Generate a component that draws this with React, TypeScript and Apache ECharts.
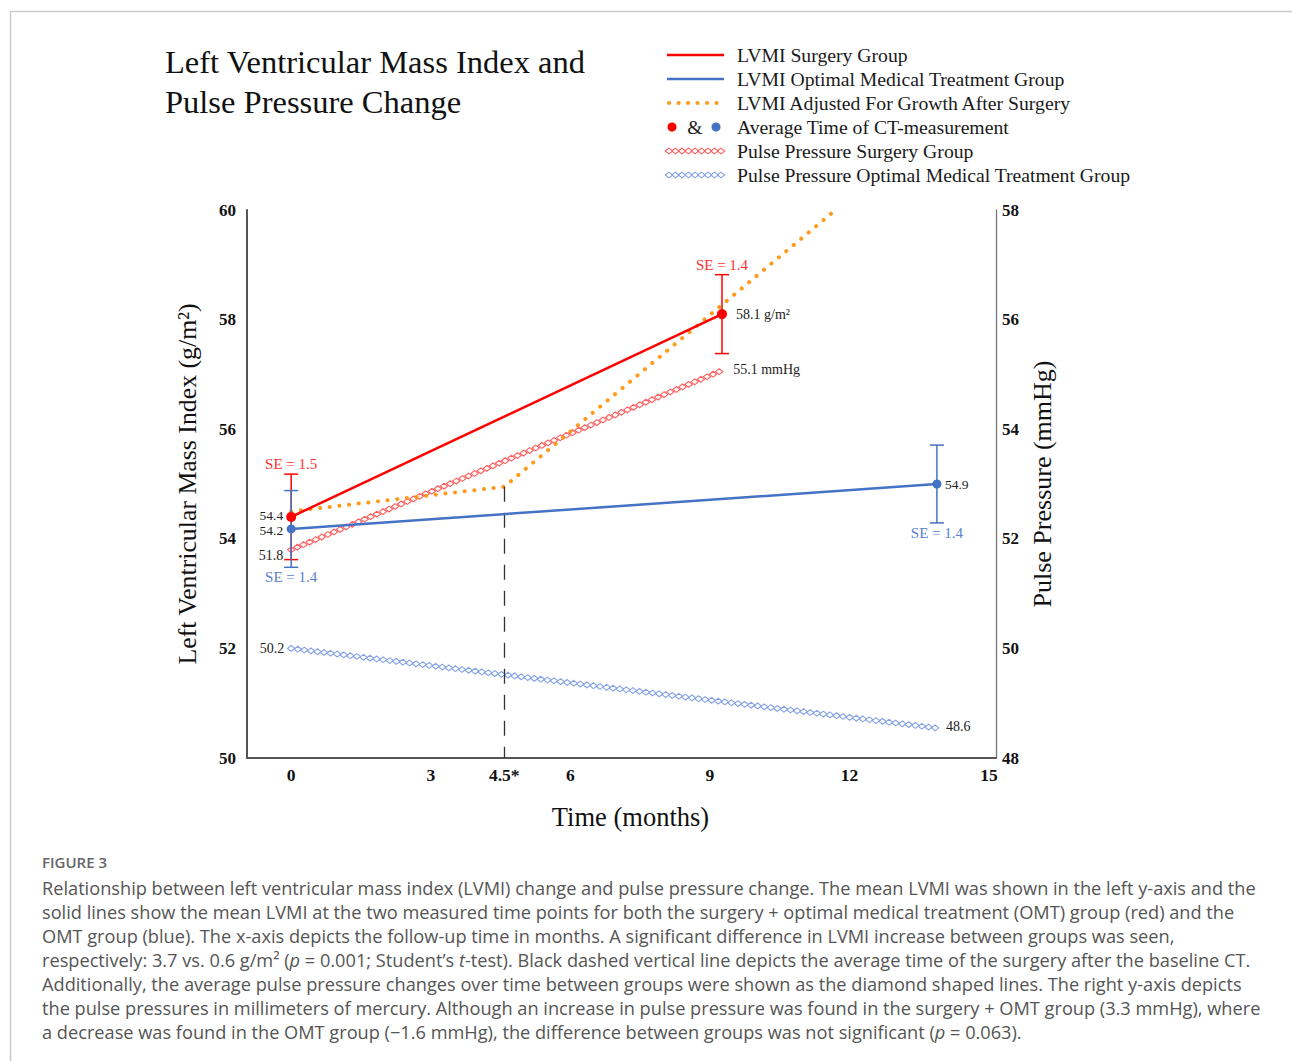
import React, { useEffect, useRef } from 'react';
import * as echarts from 'echarts';

const W = 1292;
const H = 1061;

// ---------- data ----------
const surgeryMonth = 4.58;
const xTickValues = [0, 3, surgeryMonth, 6, 9, 12, 15];
const xTickLabels = ['0', '3', '4.5*', '6', '9', '12', '15'];

const lvmiSurgeryTime = [0, 9.26];
const lvmiSurgery = [54.4, 58.1];
const lvmiSurgeryLabels = ['54.4', '58.1 g/m²'];
const lvmiSurgeryHalfBar = [0.78, 0.72];
const lvmiSurgerySE = ['SE = 1.5', 'SE = 1.4'];

const lvmiOmtTime = [0, 13.88];
const lvmiOmt = [54.18, 55.0];
const lvmiOmtLabels = ['54.2', '54.9'];
const lvmiOmtHalfBar = [0.7, 0.71];
const lvmiOmtSE = ['SE = 1.4', 'SE = 1.4'];

const adjustedTime = [0, surgeryMonth, 11.7];
const adjustedLvmi = [54.5, 54.95, 60];

const ppSurgeryTime = [0, 9.2];
const ppSurgery = [51.8, 55.05];
const ppSurgeryLabels = ['51.8', '55.1 mmHg'];

const ppOmtTime = [0, 13.84];
const ppOmt = [50.0, 48.55];
const ppOmtLabels = ['50.2', '48.6'];

const legendItems = [
  'LVMI Surgery Group',
  'LVMI Optimal Medical Treatment Group',
  'LVMI Adjusted For Growth After Surgery',
  'Average Time of CT-measurement',
  'Pulse Pressure Surgery Group',
  'Pulse Pressure Optimal Medical Treatment Group',
];

const captionLines = [
  'Relationship between left ventricular mass index (LVMI) change and pulse pressure change. The mean LVMI was shown in the left y-axis and the',
  'solid lines show the mean LVMI at the two measured time points for both the surgery + optimal medical treatment (OMT) group (red) and the',
  'OMT group (blue). The x-axis depicts the follow-up time in months. A significant difference in LVMI increase between groups was seen,',
  'respectively: 3.7 vs. 0.6 g/m² ({i|p} = 0.001; Student’s {i|t}-test). Black dashed vertical line depicts the average time of the surgery after the baseline CT.',
  'Additionally, the average pulse pressure changes over time between groups were shown as the diamond shaped lines. The right y-axis depicts',
  'the pulse pressures in millimeters of mercury. Although an increase in pulse pressure was found in the surgery + OMT group (3.3 mmHg), where',
  'a decrease was found in the OMT group (−1.6 mmHg), the difference between groups was not significant ({i|p} = 0.063).',
];

// ---------- styles ----------
const SERIF = '"Liberation Serif", "Times New Roman", serif';
const SANS = '"Open Sans", "Noto Sans", sans-serif';
const RED = '#ff0000';
const BLUE = '#4472c4';
const ORANGE = '#ff9a1a';
const PP_RED = '#ff5f5f';
const PP_BLUE = '#86a3e6';
const SE_RED = '#ff3030';
const SE_BLUE = '#5b80d2';
const CAPTION_SIZE = 18.2;

function diamondChain(x0: number, y0: number, x1: number, y1: number, color: string, step = 6.6) {
  const hw = 3.7;
  const hh = 2.9;
  const dx = x1 - x0;
  const dy = y1 - y0;
  const len = Math.hypot(dx, dy);
  const n = Math.max(1, Math.round(len / step));
  const out: any[] = [];
  for (let k = 0; k <= n; k++) {
    const cx = x0 + (dx * k) / n;
    const cy = y0 + (dy * k) / n;
    out.push({
      type: 'polygon',
      silent: true,
      shape: { points: [[cx - hw, cy], [cx, cy - hh], [cx + hw, cy], [cx, cy + hh]] },
      style: { fill: 'transparent', stroke: color, lineWidth: 1.1 },
    });
  }
  return out;
}

function textEl(x: number, y: number, text: string, font: string, fill: string, align = 'left', vAlign = 'middle') {
  return {
    type: 'text',
    x,
    y,
    silent: true,
    style: {
      text,
      font,
      fill,
      align,
      verticalAlign: vAlign,
      textAlign: align,
      textVerticalAlign: vAlign,
    },
  };
}

function ppSeries(
  name: string,
  time: number[],
  vals: number[],
  labels: string[],
  color: string,
  startOff: number[],
  endOff: number[]
) {
  return {
    type: 'custom',
    name,
    xAxisIndex: 0,
    yAxisIndex: 1,
    z: 2,
    silent: true,
    data: [[time[0], vals[0], time[1], vals[1]]],
    renderItem: (params: any, api: any) => {
      const p0 = api.coord([api.value(0), api.value(1)]);
      const p1 = api.coord([api.value(2), api.value(3)]);
      const children: any[] = diamondChain(p0[0], p0[1], p1[0], p1[1], color);
      children.push(textEl(p0[0] + startOff[0], p0[1] + startOff[1], labels[0], `14px ${SERIF}`, '#222', 'right'));
      children.push(textEl(p1[0] + endOff[0], p1[1] + endOff[1], labels[1], `14px ${SERIF}`, '#222', 'left'));
      return { type: 'group', children };
    },
  };
}

function errorSeries(name: string, time: number[], vals: number[], half: number[], se: string[], color: string, seColor: string, above: boolean) {
  return {
    type: 'custom',
    name,
    xAxisIndex: 0,
    yAxisIndex: 0,
    z: 4,
    silent: true,
    data: time.map((t, i) => [t, vals[i] - half[i], vals[i] + half[i], i]),
    renderItem: (params: any, api: any) => {
      const lo = api.coord([api.value(0), api.value(1)]);
      const hi = api.coord([api.value(0), api.value(2)]);
      const idx = api.value(3);
      const cw = 7;
      const ls = { stroke: color, lineWidth: 1.5 };
      const ty = above ? hi[1] - 10 : lo[1] + 10;
      return {
        type: 'group',
        children: [
          { type: 'line', shape: { x1: lo[0], y1: lo[1], x2: hi[0], y2: hi[1] }, style: ls },
          { type: 'line', shape: { x1: hi[0] - cw, y1: hi[1], x2: hi[0] + cw, y2: hi[1] }, style: ls },
          { type: 'line', shape: { x1: lo[0] - cw, y1: lo[1], x2: lo[0] + cw, y2: lo[1] }, style: ls },
          textEl(hi[0], ty, se[idx], `15px ${SERIF}`, seColor, 'center'),
        ],
      };
    },
  };
}

function buildLegend() {
  const rowsY = [55, 79, 103, 127, 151, 175];
  const x0 = 667;
  const x1 = 724;
  const tx = 737;
  const font = `19.7px ${SERIF}`;
  const els: any[] = [];
  els.push({ type: 'line', silent: true, shape: { x1: x0, y1: rowsY[0], x2: x1, y2: rowsY[0] }, style: { stroke: RED, lineWidth: 2.5 } });
  els.push({ type: 'line', silent: true, shape: { x1: x0, y1: rowsY[1], x2: x1, y2: rowsY[1] }, style: { stroke: BLUE, lineWidth: 2.5 } });
  els.push({
    type: 'line',
    silent: true,
    shape: { x1: x0 + 2, y1: rowsY[2], x2: x1, y2: rowsY[2] },
    style: { stroke: ORANGE, lineWidth: 4, lineDash: [0.1, 9.4], lineCap: 'round' },
  });
  els.push({ type: 'circle', silent: true, shape: { cx: 672, cy: rowsY[3], r: 4.5 }, style: { fill: RED } });
  els.push(textEl(695, rowsY[3], '&', font, '#222', 'center'));
  els.push({ type: 'circle', silent: true, shape: { cx: 716, cy: rowsY[3], r: 4.5 }, style: { fill: BLUE } });
  diamondChain(x0 + 2, rowsY[4], x1 - 3, rowsY[4], PP_RED).forEach((d) => els.push(d));
  diamondChain(x0 + 2, rowsY[5], x1 - 3, rowsY[5], PP_BLUE).forEach((d) => els.push(d));
  legendItems.forEach((t, i) => els.push(textEl(tx, rowsY[i], t, font, '#1a1a1a', 'left')));
  return els;
}

function buildCaption() {
  const els: any[] = [];
  els.push(textEl(42, 862, 'FIGURE 3', `600 15px ${SANS}`, '#666', 'left'));
  captionLines.forEach((line, i) => {
    els.push({
      type: 'text',
      x: 42,
      y: 888 + i * 24,
      silent: true,
      style: {
        text: line,
        font: `${CAPTION_SIZE}px ${SANS}`,
        fill: '#555',
        align: 'left',
        verticalAlign: 'middle',
        textAlign: 'left',
        textVerticalAlign: 'middle',
        rich: {
          i: { fontStyle: 'italic', fontSize: CAPTION_SIZE, fontFamily: SANS, fill: '#555', color: '#555' },
        },
      },
    });
  });
  return els;
}

const axisLabelFont = { fontFamily: SERIF, fontSize: 17, fontWeight: 'bold' as const, color: '#111' };

const option: any = {
  animation: false,
  backgroundColor: '#fff',
  grid: { left: 247, top: 210, width: 749, height: 548, containLabel: false, outerBoundsMode: 'none' },
  xAxis: {
    type: 'value',
    min: -0.95,
    max: 15.15,
    name: 'Time (months)',
    nameLocation: 'middle',
    nameGap: 45,
    nameTextStyle: { fontFamily: SERIF, fontSize: 26.5, color: '#111', padding: [0, 0, 0, 18] },
    axisLine: { show: true, onZero: false, lineStyle: { color: '#555', width: 2 } },
    axisTick: { show: false },
    splitLine: { show: false },
    axisLabel: {
      ...axisLabelFont,
      fontSize: 17.5,
      margin: 8,
      customValues: xTickValues,
      formatter: (v: number) => {
        const i = xTickValues.indexOf(v);
        return i >= 0 ? xTickLabels[i] : '';
      },
    },
  },
  yAxis: [
    {
      type: 'value',
      min: 50,
      max: 60,
      interval: 2,
      position: 'left',
      name: 'Left Ventricular Mass Index (g/m²)',
      nameLocation: 'middle',
      nameRotate: 90,
      nameGap: 47,
      nameTextStyle: { fontFamily: SERIF, fontSize: 25.8, color: '#111' },
      axisLine: { show: true, onZero: false, lineStyle: { color: '#555', width: 2 } },
      axisTick: { show: false },
      splitLine: { show: false },
      axisLabel: { ...axisLabelFont, margin: 11 },
    },
    {
      type: 'value',
      min: 48,
      max: 58,
      interval: 2,
      position: 'right',
      name: 'Pulse Pressure (mmHg)',
      nameLocation: 'middle',
      nameRotate: 90,
      nameGap: 33,
      nameTextStyle: { fontFamily: SERIF, fontSize: 26, color: '#111' },
      axisLine: { show: true, onZero: false, lineStyle: { color: '#777', width: 1.3 } },
      axisTick: { show: false },
      splitLine: { show: false },
      axisLabel: { ...axisLabelFont, margin: 6 },
    },
  ],
  series: [
    ppSeries('Pulse Pressure Surgery Group', ppSurgeryTime, ppSurgery, ppSurgeryLabels, PP_RED, [-8, 6], [14, -2]),
    ppSeries('Pulse Pressure Optimal Medical Treatment Group', ppOmtTime, ppOmt, ppOmtLabels, PP_BLUE, [-7, 0], [11, -1]),
    {
      type: 'line',
      name: 'LVMI Adjusted For Growth After Surgery',
      xAxisIndex: 0,
      yAxisIndex: 0,
      z: 3,
      silent: true,
      symbol: 'none',
      data: adjustedTime.map((t, i) => [t, adjustedLvmi[i]]),
      lineStyle: { color: ORANGE, width: 4, type: [0.1, 9.6], cap: 'round' },
      markLine: {
        silent: true,
        symbol: ['none', 'none'],
        label: { show: false },
        lineStyle: { color: '#333', width: 1.3, type: [15, 11] },
        data: [[{ coord: [surgeryMonth, adjustedLvmi[1]] }, { coord: [surgeryMonth, 50] }]],
      },
    },
    {
      type: 'line',
      name: 'LVMI Optimal Medical Treatment Group',
      xAxisIndex: 0,
      yAxisIndex: 0,
      z: 5,
      silent: true,
      symbol: 'circle',
      symbolSize: 9,
      showSymbol: true,
      data: lvmiOmtTime.map((t, i) => ({
        value: [t, lvmiOmt[i]],
        label: { position: i === 0 ? 'left' : 'right', distance: 3.5, offset: i === 0 ? [0, 1.5] : [0, 0] },
      })),
      lineStyle: { color: BLUE, width: 2.5 },
      itemStyle: { color: BLUE },
      label: {
        show: true,
        formatter: (p: any) => lvmiOmtLabels[p.dataIndex],
        fontFamily: SERIF,
        fontSize: 13.5,
        lineHeight: 12,
        color: '#222',
      },
    },
    {
      type: 'line',
      name: 'LVMI Surgery Group',
      xAxisIndex: 0,
      yAxisIndex: 0,
      z: 6,
      silent: true,
      symbol: 'circle',
      symbolSize: 10,
      showSymbol: true,
      data: lvmiSurgeryTime.map((t, i) => ({
        value: [t, lvmiSurgery[i]],
        label: {
          position: i === 0 ? 'left' : 'right',
          distance: i === 0 ? 3 : 9,
          offset: i === 0 ? [0, -1.5] : [0, 0],
          fontSize: i === 0 ? 13.5 : 14,
        },
      })),
      lineStyle: { color: RED, width: 2.5 },
      itemStyle: { color: RED },
      label: {
        show: true,
        formatter: (p: any) => lvmiSurgeryLabels[p.dataIndex],
        fontFamily: SERIF,
        fontSize: 14,
        lineHeight: 12,
        color: '#222',
      },
    },
    errorSeries('SE Surgery', lvmiSurgeryTime, lvmiSurgery, lvmiSurgeryHalfBar, lvmiSurgerySE, RED, SE_RED, true),
    errorSeries('SE OMT', lvmiOmtTime, lvmiOmt, lvmiOmtHalfBar, lvmiOmtSE, BLUE, SE_BLUE, false),
  ],
  graphic: [
    {
      type: 'rect',
      silent: true,
      z: -10,
      shape: { x: 10.5, y: 11.5, width: 1300, height: 1100 },
      style: { fill: 'transparent', stroke: '#cccccc', lineWidth: 1.5 },
    },
    {
      type: 'text',
      x: 165,
      y: 42,
      silent: true,
      style: {
        text: 'Left Ventricular Mass Index and\nPulse Pressure Change',
        font: `32.5px ${SERIF}`,
        lineHeight: 40,
        fill: '#111',
        align: 'left',
        verticalAlign: 'top',
        textAlign: 'left',
        textVerticalAlign: 'top',
      },
    },
    ...buildLegend(),
    ...buildCaption(),
  ],
};

export default function App() {
  const ref = useRef<HTMLDivElement>(null);
  useEffect(() => {
    if (!ref.current) return;
    const chart = echarts.init(ref.current, null, { renderer: 'svg' });
    chart.setOption(option);
    return () => {
      chart.dispose();
    };
  }, []);
  return (
    <div
      ref={ref}
      style={{ position: 'absolute', left: 0, top: 0, width: W, height: H, background: '#fff' }}
    />
  );
}
